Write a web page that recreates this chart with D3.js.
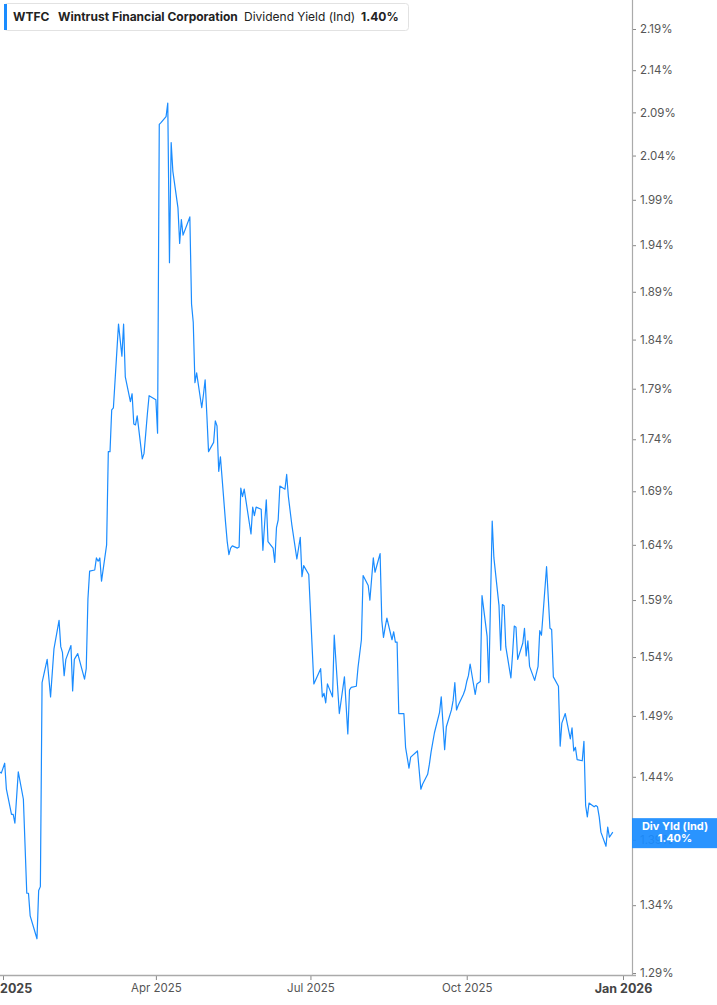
<!DOCTYPE html>
<html>
<head>
<meta charset="utf-8">
<script src="https://cdn.jsdelivr.net/npm/d3@7"></script>
<style>
  html, body { margin: 0; padding: 0; background: #fff; }
  svg { display: block; font-family: Inter, "Noto Sans", sans-serif; }
</style>
</head>
<body>
<div id="chart"></div>
<script>
// WTFC dividend yield (indicated)
var dates = [
  "2024-12-30","2024-12-31","2025-01-02","2025-01-03","2025-01-06","2025-01-07","2025-01-08","2025-01-10",
  "2025-01-13","2025-01-15","2025-01-16","2025-01-17","2025-01-21","2025-01-22","2025-01-23","2025-01-24",
  "2025-01-27","2025-01-29","2025-01-31","2025-02-03","2025-02-04","2025-02-05","2025-02-06","2025-02-07",
  "2025-02-10","2025-02-11","2025-02-12","2025-02-14","2025-02-18","2025-02-19","2025-02-20","2025-02-21",
  "2025-02-24","2025-02-25","2025-02-26","2025-02-27","2025-02-28","2025-03-03","2025-03-04","2025-03-05",
  "2025-03-06","2025-03-07","2025-03-10","2025-03-12","2025-03-13","2025-03-14","2025-03-17","2025-03-18",
  "2025-03-19","2025-03-20","2025-03-21","2025-03-24","2025-03-25","2025-03-26","2025-03-27","2025-03-28",
  "2025-03-31","2025-04-01","2025-04-02","2025-04-03","2025-04-04","2025-04-07","2025-04-08","2025-04-09",
  "2025-04-10","2025-04-11","2025-04-14","2025-04-15","2025-04-16","2025-04-17","2025-04-21","2025-04-22",
  "2025-04-23","2025-04-24","2025-04-25","2025-04-28","2025-04-29","2025-04-30","2025-05-01","2025-05-02",
  "2025-05-05","2025-05-06","2025-05-07","2025-05-08","2025-05-09","2025-05-12","2025-05-13","2025-05-14",
  "2025-05-15","2025-05-16","2025-05-19","2025-05-20","2025-05-21","2025-05-22","2025-05-23","2025-05-27",
  "2025-05-28","2025-05-29","2025-05-30","2025-06-02","2025-06-03","2025-06-04","2025-06-05","2025-06-06",
  "2025-06-09","2025-06-10","2025-06-11","2025-06-12","2025-06-13","2025-06-16","2025-06-17","2025-06-18",
  "2025-06-20","2025-06-23","2025-06-25","2025-06-26","2025-06-27","2025-06-30","2025-07-03","2025-07-07",
  "2025-07-08","2025-07-09","2025-07-10","2025-07-11","2025-07-14","2025-07-15","2025-07-18","2025-07-21",
  "2025-07-23","2025-07-24","2025-07-25","2025-07-28","2025-07-29","2025-07-31","2025-08-01","2025-08-04",
  "2025-08-05","2025-08-07","2025-08-08","2025-08-11","2025-08-12","2025-08-13","2025-08-14","2025-08-15",
  "2025-08-18","2025-08-19","2025-08-20","2025-08-21","2025-08-22","2025-08-25","2025-08-26","2025-08-28",
  "2025-08-29","2025-09-02","2025-09-04","2025-09-05","2025-09-08","2025-09-09","2025-09-10","2025-09-11",
  "2025-09-12","2025-09-15","2025-09-16","2025-09-18","2025-09-19","2025-09-22","2025-09-23","2025-09-24",
  "2025-09-25","2025-09-26","2025-09-29","2025-09-30","2025-10-01","2025-10-02","2025-10-03","2025-10-06",
  "2025-10-07","2025-10-09","2025-10-10","2025-10-13","2025-10-14","2025-10-16","2025-10-17","2025-10-20",
  "2025-10-21","2025-10-22","2025-10-23","2025-10-24","2025-10-27","2025-10-28","2025-10-29","2025-10-30",
  "2025-10-31","2025-11-03","2025-11-04","2025-11-05","2025-11-06","2025-11-07","2025-11-10","2025-11-12",
  "2025-11-13","2025-11-14","2025-11-17","2025-11-19","2025-11-20","2025-11-21","2025-11-24","2025-11-25",
  "2025-11-26","2025-11-28","2025-12-01","2025-12-02","2025-12-03","2025-12-04","2025-12-05","2025-12-08",
  "2025-12-09","2025-12-10","2025-12-11","2025-12-12","2025-12-15","2025-12-16","2025-12-17","2025-12-18",
  "2025-12-19","2025-12-22","2025-12-23","2025-12-24","2025-12-26"
];

var yields = [
  1.444,1.443,1.451,1.430,1.410,1.410,1.403,1.444,
  1.422,1.349,1.349,1.332,1.315,1.351,1.354,1.518,
  1.538,1.506,1.547,1.572,1.549,1.544,1.524,1.538,
  1.550,1.511,1.538,1.543,1.521,1.530,1.591,1.616,
  1.617,1.628,1.625,1.628,1.607,1.640,1.728,1.728,
  1.769,1.771,1.856,1.823,1.856,1.802,1.777,1.785,
  1.755,1.754,1.763,1.721,1.726,1.745,1.765,1.783,
  1.780,1.779,1.746,2.076,2.078,2.085,2.101,1.921,
  2.055,2.022,1.981,1.942,1.968,1.951,1.971,1.877,
  1.858,1.796,1.806,1.771,1.784,1.799,1.764,1.728,
  1.737,1.758,1.753,1.709,1.723,1.661,1.643,1.631,
  1.637,1.639,1.637,1.638,1.693,1.685,1.692,1.650,
  1.675,1.667,1.675,1.673,1.635,1.659,1.682,1.643,
  1.637,1.624,1.656,1.663,1.695,1.692,1.706,1.685,
  1.659,1.627,1.647,1.611,1.621,1.613,1.517,1.530,
  1.506,1.509,1.501,1.517,1.506,1.559,1.492,1.523,
  1.475,1.512,1.514,1.515,1.531,1.555,1.612,1.603,
  1.590,1.628,1.615,1.632,1.572,1.557,1.566,1.574,
  1.555,1.562,1.553,1.553,1.492,1.492,1.464,1.447,
  1.456,1.461,1.430,1.434,1.442,1.450,1.460,1.468,
  1.476,1.493,1.506,1.462,1.481,1.495,1.503,1.518,
  1.495,1.499,1.508,1.512,1.519,1.524,1.534,1.508,
  1.517,1.519,1.594,1.558,1.518,1.662,1.628,1.585,
  1.546,1.586,1.585,1.549,1.522,1.543,1.567,1.566,
  1.538,1.552,1.565,1.541,1.554,1.532,1.520,1.532,
  1.563,1.559,1.620,1.565,1.564,1.523,1.515,1.465,
  1.484,1.492,1.471,1.480,1.461,1.464,1.454,1.453,
  1.469,1.417,1.408,1.419,1.416,1.417,1.416,1.408,
  1.396,1.385,1.400,1.392,1.396
];

var yTicks = [1.29,1.34,1.39,1.44,1.49,1.54,1.59,1.64,1.69,1.74,1.79,1.84,1.89,1.94,1.99,2.04,2.09,2.14,2.19];
var xTicks = ["2025-01-01","2025-04-01","2025-07-01","2025-10-01","2026-01-01"];
var xTickLabels = ["Jan 2025","Apr 2025","Jul 2025","Oct 2025","Jan 2026"];

var ticker = "WTFC",
    company = "Wintrust Financial Corporation",
    metric = "Dividend Yield (Ind)",
    shortMetric = "Div Yld (Ind)";

var width = 717,
    height = 1005,
    plotRight = 632,
    plotBottom = 975,
    blue = "#1a8cff";

var parse = d3.timeParse("%Y-%m-%d");
var data = dates.map(function(d, i) { return { date: parse(d), value: yields[i] }; });
var lastValue = yields[yields.length - 1];

var x = d3.scaleTime()
    .domain([parse("2025-01-01"), parse("2026-01-01")])
    .range([3, 623]);

var y = d3.scaleLog()
    .domain([1.29, 2.19])
    .range([973, 29]);

var svg = d3.select("#chart").append("svg")
    .attr("width", width)
    .attr("height", height);

svg.append("defs").append("clipPath")
    .attr("id", "plot-clip")
  .append("rect")
    .attr("x", 0).attr("y", 0)
    .attr("width", plotRight).attr("height", plotBottom);

//  the yield line
var line = d3.line()
    .x(function(d) { return x(d.date); })
    .y(function(d) { return y(d.value); });

svg.append("path")
    .datum(data)
    .attr("clip-path", "url(#plot-clip)")
    .attr("fill", "none")
    .attr("stroke", blue)
    .attr("stroke-width", 1.2)
    .attr("stroke-linejoin", "round")
    .attr("d", line);

//  right axis
var yAxis = svg.append("g")
    .attr("transform", "translate(" + plotRight + ",0)")
    .call(d3.axisRight(y)
        .tickValues(yTicks)
        .tickFormat(function(d) { return d.toFixed(2) + "%"; })
        .tickSize(4)
        .tickPadding(4));
yAxis.select(".domain").remove();
yAxis.selectAll(".tick line").attr("stroke", "#888");
yAxis.selectAll(".tick text")
    .attr("fill", "#555")
    .style("font-size", "11.5px")
    .style("font-family", "Inter, sans-serif");

svg.append("line")
    .attr("x1", plotRight + 0.5).attr("x2", plotRight + 0.5)
    .attr("y1", 0).attr("y2", plotBottom)
    .attr("stroke", "#aaa")
    .attr("stroke-width", 1.2);

//  bottom axis
var xAxis = svg.append("g")
    .attr("transform", "translate(0," + plotBottom + ")")
    .call(d3.axisBottom(x)
        .tickValues(xTicks.map(parse))
        .tickFormat(function(d, i) { return xTickLabels[i]; })
        .tickSize(5)
        .tickPadding(4));
xAxis.select(".domain").remove();
xAxis.selectAll(".tick line").attr("stroke", "#888");
xAxis.selectAll(".tick text")
    .attr("fill", "#555")
    .style("font-size", "11.5px")
    .style("font-family", "Inter, sans-serif")
    .filter(function(d) { return d.getMonth() === 0; })
    .attr("fill", "#444")
    .style("font-size", "12.5px")
    .style("font-weight", "bold");

svg.append("line")
    .attr("x1", 0).attr("x2", plotRight + 4)
    .attr("y1", plotBottom + 0.5).attr("y2", plotBottom + 0.5)
    .attr("stroke", "#aaa")
    .attr("stroke-width", 1.4);

//  last value label on the axis
var ly = y(lastValue);
var tag = svg.append("g");
tag.append("rect")
    .attr("x", plotRight)
    .attr("y", ly - 14)
    .attr("width", width - plotRight)
    .attr("height", 30)
    .attr("fill", blue)
    .attr("fill-opacity", 0.93);
tag.append("text")
    .attr("x", 675).attr("y", ly - 2)
    .attr("text-anchor", "middle")
    .attr("fill", "#fff")
    .style("font-size", "11px")
    .style("font-weight", "bold")
    .text(shortMetric);
tag.append("text")
    .attr("x", 675).attr("y", ly + 10)
    .attr("text-anchor", "middle")
    .attr("fill", "#fff")
    .style("font-size", "11px")
    .style("font-weight", "bold")
    .text(lastValue.toFixed(2) + "%");

//  legend box top left
var legend = svg.append("g");
legend.append("rect")
    .attr("x", 4.5).attr("y", 3.5)
    .attr("width", 404).attr("height", 27)
    .attr("rx", 3)
    .attr("fill", "#fff")
    .attr("stroke", "#e2e2e2");
legend.append("rect")
    .attr("x", 4).attr("y", 4)
    .attr("width", 3).attr("height", 26)
    .attr("fill", blue);

var legendItems = [
    { text: ticker, x: 13, bold: true },
    { text: company, x: 58, bold: true },
    { text: metric, x: 244, bold: false },
    { text: lastValue.toFixed(2) + "%", x: 361, bold: true }
];
legend.selectAll("text.item")
    .data(legendItems)
    .enter().append("text")
    .attr("class", "item")
    .attr("x", function(d) { return d.x; })
    .attr("y", 21)
    .attr("fill", "#222")
    .style("font-size", "12px")
    .style("font-weight", function(d) { return d.bold ? "bold" : "normal"; })
    .text(function(d) { return d.text; });
</script>
</body>
</html>
